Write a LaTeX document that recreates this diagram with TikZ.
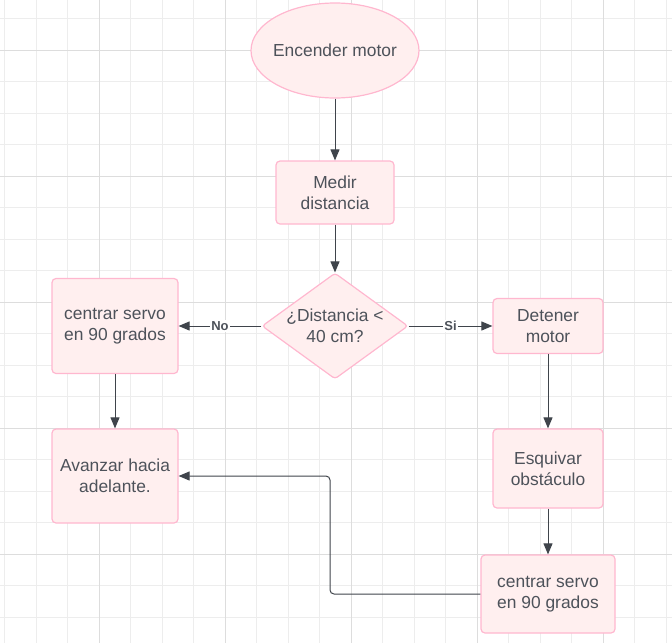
\documentclass[tikz,border=0pt]{standalone}
\usepackage{fontspec}
\setmainfont{Liberation Sans}
\usetikzlibrary{shapes.geometric}
\usetikzlibrary{arrows.meta}
\definecolor{gridmin}{HTML}{EDEDED}
\definecolor{gridmaj}{HTML}{DDDDDD}
\definecolor{boxfill}{HTML}{FFEFEF}
\definecolor{boxline}{HTML}{FFB7CF}
\definecolor{ink}{HTML}{4D525A}
\definecolor{wire}{HTML}{3F444B}

\begin{document}
\begin{tikzpicture}[x=1pt, y=-1pt,
    txt/.style={text=ink, align=center, inner sep=0pt, font=\fontsize{17.4}{20.7}\selectfont},
    box/.style={txt, draw=boxline, fill=boxfill, line width=1.2pt, rounded corners=4pt},
    start/.style={txt, ellipse, draw=boxline, fill=boxfill, line width=1.2pt, inner sep=-4pt},
    decision/.style={diamond, draw=boxline, fill=boxfill, line width=1.2pt, inner sep=0pt, rounded corners=3pt},
    conn/.style={draw=wire, line width=1pt, -{Triangle[length=11pt, width=9pt]}},
    tag/.style={fill=white, text=ink, inner sep=1pt, font=\fontsize{13}{15}\selectfont\bfseries}]
    \useasboundingbox (0,0) rectangle (672,643);
    % grid
    \foreach \i in {0,...,21} \draw[gridmin, line width=1pt] ({4.5+31.5*\i},0) -- ({4.5+31.5*\i},643);
    \foreach \j in {0,...,19} \draw[gridmin, line width=1pt] (0,{18.5+31.5*\j}) -- (672,{18.5+31.5*\j});
    \foreach \gx in {99,225,351,477,603} \draw[gridmaj, line width=1pt] (\gx,0) -- (\gx,643);
    \foreach \gy in {50,176,302,428,554} \draw[gridmaj, line width=1pt] (0,\gy) -- (672,\gy);

    \node[start, minimum width=168pt, minimum height=95pt] (enc) at (335,50.5) {Encender motor};
    \node[box, minimum width=118pt, minimum height=63pt] (medir) at (335,192.5) {Medir\\distancia};
    \node[decision, minimum width=146pt, minimum height=106pt] (dec) at (335,326) {};
    \node[txt] (dectxt) at (dec.center) {¿Distancia <\\40 cm?};
    \node[box, minimum width=126pt, minimum height=95pt] (srv1) at (115,326) {centrar servo\\en 90 grados};
    \node[box, minimum width=126pt, minimum height=94pt] (avz) at (115,476) {Avanzar hacia\\adelante.};
    \node[box, minimum width=110pt, minimum height=55pt] (det) at (548,326) {Detener\\motor};
    \node[box, minimum width=110pt, minimum height=79pt] (esq) at (548,468.5) {Esquivar\\obstáculo};
    \node[box, minimum width=134pt, minimum height=78pt] (srv2) at (548,594) {centrar servo\\en 90 grados};

    \draw[conn] (enc) -- (medir);
    \draw[conn] (medir) -- (dec);
    \draw[conn] (dec) -- node[tag] {No} (srv1);
    \draw[conn] (dec) -- node[tag] {Si} (det);
    \draw[conn] (srv1) -- (avz);
    \draw[conn] (det) -- (esq);
    \draw[conn] (esq) -- (srv2);
    \coordinate (bend) at (330,594);
    \draw[conn, rounded corners=4pt] (srv2.west) -- (bend) |- (avz.east);
\end{tikzpicture}
\end{document}
